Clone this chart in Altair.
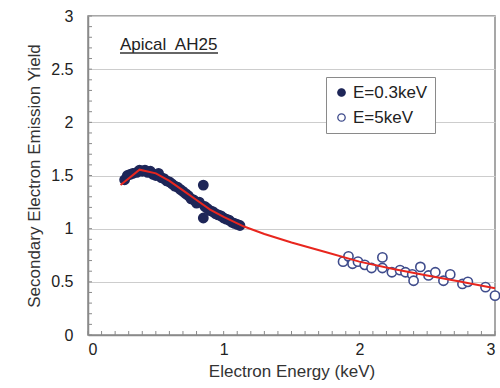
import altair as alt
import pandas as pd
import numpy as np

# Measured yield at 0.3 keV primary energy (filled markers)
e_low = [0.27, 0.29, 0.31, 0.33, 0.36, 0.38, 0.40, 0.42, 0.44, 0.46, 0.48, 0.50,
         0.52, 0.54, 0.56, 0.58, 0.60, 0.62, 0.64, 0.66, 0.68, 0.70, 0.72, 0.74,
         0.76, 0.78, 0.80, 0.82, 0.85, 0.85, 0.86, 0.88, 0.90, 0.92, 0.94, 0.96,
         0.98, 1.00, 1.02, 1.04, 1.06, 1.08, 1.10, 1.12]
y_low = [1.46, 1.50, 1.51, 1.52, 1.53, 1.55, 1.54, 1.55, 1.53, 1.54, 1.51, 1.50,
         1.52, 1.48, 1.47, 1.45, 1.44, 1.42, 1.40, 1.39, 1.37, 1.35, 1.33, 1.31,
         1.28, 1.27, 1.24, 1.25, 1.41, 1.10, 1.21, 1.19, 1.17, 1.16, 1.14, 1.13,
         1.12, 1.10, 1.09, 1.08, 1.06, 1.05, 1.04, 1.03]

# Measured yield at 5 keV primary energy (open markers)
e_high = [1.88, 1.92, 1.95, 1.99, 2.04, 2.09, 2.17, 2.17, 2.24, 2.30, 2.34, 2.39,
          2.40, 2.45, 2.51, 2.56, 2.62, 2.67, 2.76, 2.80, 2.93, 3.00]
y_high = [0.69, 0.74, 0.67, 0.69, 0.66, 0.63, 0.73, 0.63, 0.59, 0.61, 0.59, 0.57,
          0.51, 0.64, 0.56, 0.59, 0.51, 0.57, 0.48, 0.50, 0.45, 0.37]

# Fitted yield curve
fit_e = [0.24, 0.38, 0.50, 0.60, 0.70, 0.80, 0.90, 1.00, 1.15, 1.30, 1.50, 1.75,
         2.00, 2.25, 2.50, 2.75, 3.00]
fit_y = [1.41, 1.555, 1.52, 1.45, 1.36, 1.27, 1.18, 1.11, 1.02, 0.95, 0.87, 0.78,
         0.69, 0.62, 0.56, 0.50, 0.44]

series_names = ["E=0.3keV", "E=5keV"]
label_text = "Apical\u00a0 AH25"

FONT = "Liberation Sans"
NAVY = "#1e2658"
OPEN = "#3f4c8c"
RED = "#e8261e"
FRAME = "#8a8a8a"

pts = pd.DataFrame({
    "energy": e_low + e_high,
    "yield": y_low + y_high,
    "series": [series_names[0]] * len(e_low) + [series_names[1]] * len(e_high),
})
fit = pd.DataFrame({"energy": fit_e, "yield": fit_y})
minor = pd.DataFrame({"v": np.round(np.arange(0, 3.001, 0.1), 1)})

xscale = alt.Scale(domain=[0, 3], nice=False)
yscale = alt.Scale(domain=[0, 3], nice=False)

x_axis = alt.Axis(values=[0, 1, 2, 3], format="~g", grid=False, ticks=False,
                  labelFontSize=16, labelPadding=6, titleFontSize=17,
                  titlePadding=6, titleFontWeight="normal")
y_axis = alt.Axis(values=[0, 0.5, 1, 1.5, 2, 2.5, 3], format="~g", grid=True,
                  ticks=False, labelFontSize=16, labelPadding=15,
                  titleFontSize=17, titlePadding=7, titleFontWeight="normal")

base = alt.Chart(pts).encode(
    x=alt.X("energy:Q", scale=xscale, axis=x_axis, title="Electron Energy (keV)"),
    y=alt.Y("yield:Q", scale=yscale, axis=y_axis,
            title="Secondary Electron Emission Yield"),
)

points = base.mark_point(size=85, strokeWidth=1.6, opacity=1).encode(
    fill=alt.Fill("series:N",
                  scale=alt.Scale(domain=series_names, range=[NAVY, "#ffffff"]),
                  legend=alt.Legend(title=None, orient="none", legendX=238,
                                    legendY=61, symbolType="circle",
                                    symbolSize=55, symbolStrokeWidth=1.3,
                                    labelFontSize=17, labelOffset=3,
                                    rowPadding=7, padding=7,
                                    strokeColor=FRAME, fillColor="white",
                                    labelFont=FONT, labelColor="#222")),
    stroke=alt.Stroke("series:N",
                      scale=alt.Scale(domain=series_names, range=[NAVY, OPEN]),
                      legend=None),
)

line = alt.Chart(fit).mark_line(color=RED, strokeWidth=2).encode(
    x=alt.X("energy:Q", scale=xscale),
    y=alt.Y("yield:Q", scale=yscale),
)

yticks = alt.Chart(minor).mark_rule(color=FRAME, strokeWidth=1).encode(
    y=alt.Y("v:Q", scale=yscale), x=alt.value(0), x2=alt.value(4))
xticks = alt.Chart(minor).mark_rule(color=FRAME, strokeWidth=1).encode(
    x=alt.X("v:Q", scale=xscale), y=alt.value(319), y2=alt.value(315))

label = alt.Chart(pd.DataFrame({"t": [label_text]})).mark_text(
    align="left", baseline="alphabetic", fontSize=17, font=FONT, color="#222"
).encode(x=alt.value(32), y=alt.value(34), text="t:N")
underline = alt.Chart(pd.DataFrame({"t": [label_text]})).mark_rule(
    color="#333", strokeWidth=1.4
).encode(x=alt.value(32), x2=alt.value(130), y=alt.value(37))

chart = alt.layer(yticks, xticks, points, line, label, underline).properties(
    width=407, height=319,
    autosize=alt.AutoSizeParams(type="none"),
    padding={"left": 88, "top": 16, "right": 5, "bottom": 53},
    background="white",
).configure_view(
    stroke=FRAME, strokeWidth=1.5
).configure_axis(
    labelFont=FONT, titleFont=FONT, labelColor="#222", titleColor="#333",
    domainColor=FRAME, domainWidth=1.5, gridColor="#cdcdcd", gridWidth=1,
)

chart.save("out.html", embed_options={"renderer": "svg", "actions": False})
